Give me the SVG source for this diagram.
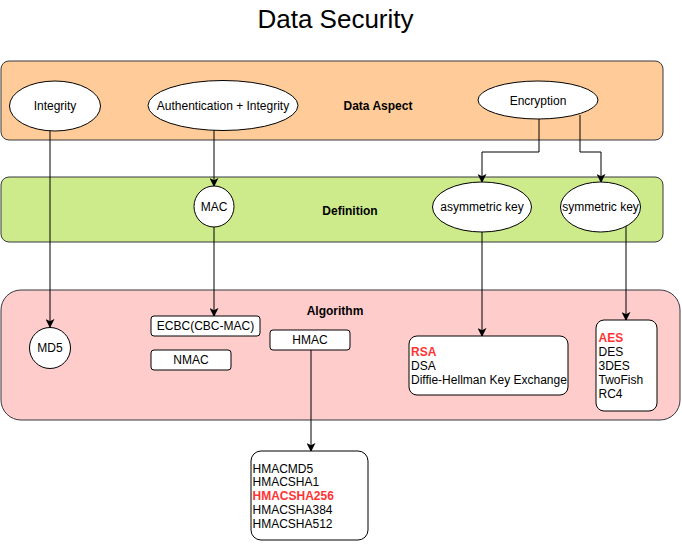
<svg xmlns="http://www.w3.org/2000/svg" width="682" height="545" viewBox="0 0 682 545">
<defs>
<marker id="arr" viewBox="0 0 10 10" refX="9" refY="5" markerWidth="9" markerHeight="9" markerUnits="userSpaceOnUse" orient="auto">
<path d="M0,0 L10,5 L0,10 L2.5,5 z" fill="#000"/>
</marker>
</defs>
<style>
text{font-family:"Liberation Sans",Arial,sans-serif;font-size:12px;fill:#000}
.c{text-anchor:middle;dominant-baseline:central}
.b{font-weight:bold}
.red{fill:#ff3333;font-weight:bold}
.band{stroke:#36393d;stroke-width:1}
.node{fill:#fff;stroke:#000;stroke-width:1}
.edge{fill:none;stroke:#000;stroke-width:1;marker-end:url(#arr)}
</style>
<rect width="682" height="545" fill="#fff"/>
<text x="335.5" y="28" text-anchor="middle" style="font-size:26px">Data Security</text>

<g id="band-data-aspect">
<rect class="band" x="1" y="61" width="662" height="79" rx="8" fill="#ffcc99"/>
<text x="378" y="106" class="c b">Data Aspect</text>
</g>
<g id="band-definition">
<rect class="band" x="1" y="177" width="662" height="65" rx="8" fill="#cdeb8b"/>
<text x="350" y="211" class="c b">Definition</text>
</g>
<g id="band-algorithm">
<rect class="band" x="1" y="290" width="679" height="130" rx="20" fill="#ffcccc"/>
<text x="335" y="311" class="c b">Algorithm</text>
</g>

<g id="connectors">
<line class="edge" x1="50" y1="131" x2="50" y2="327"/>
<line class="edge" x1="214" y1="130" x2="214" y2="186"/>
<line class="edge" x1="214" y1="227" x2="214" y2="316"/>
<polyline class="edge" points="539,119 539,152 482,152 482,182"/>
<polyline class="edge" points="580,115 580,152 601,152 601,182"/>
<line class="edge" x1="482" y1="232" x2="482" y2="336"/>
<line class="edge" x1="626" y1="226" x2="626" y2="320"/>
<line class="edge" x1="311" y1="350" x2="311" y2="451"/>
</g>

<g id="integrity">
<ellipse class="node" cx="55" cy="106" rx="45.5" ry="25"/>
<text x="55" y="106" class="c">Integrity</text>
</g>
<g id="auth-integrity">
<ellipse class="node" cx="223" cy="105.5" rx="75" ry="25"/>
<text x="223" y="105.5" class="c">Authentication + Integrity</text>
</g>
<g id="encryption">
<ellipse class="node" cx="538" cy="100" rx="60" ry="19"/>
<text x="538" y="100.5" class="c">Encryption</text>
</g>
<g id="mac">
<ellipse class="node" cx="214" cy="206.5" rx="20" ry="20.5"/>
<text x="214" y="207" class="c">MAC</text>
</g>
<g id="asymmetric-key">
<ellipse class="node" cx="482" cy="207" rx="49.5" ry="25"/>
<text x="482" y="207" class="c">asymmetric key</text>
</g>
<g id="symmetric-key">
<ellipse class="node" cx="600.5" cy="207" rx="40" ry="25"/>
<text x="600.5" y="207" class="c">symmetric key</text>
</g>
<g id="md5">
<circle class="node" cx="50" cy="348" r="20.5"/>
<text x="50" y="348" class="c">MD5</text>
</g>
<g id="ecbc">
<rect class="node" x="151" y="316" width="109" height="20" rx="3"/>
<text x="205.5" y="326" class="c">ECBC(CBC-MAC)</text>
</g>
<g id="nmac">
<rect class="node" x="151" y="350" width="80" height="20" rx="3"/>
<text x="191" y="360" class="c">NMAC</text>
</g>
<g id="hmac">
<rect class="node" x="270" y="330" width="80" height="20" rx="3"/>
<text x="310" y="340" class="c">HMAC</text>
</g>
<g id="asym-algos">
<rect class="node" x="409" y="336" width="159" height="59" rx="8"/>
<text x="411" y="356" class="red">RSA</text>
<text x="411" y="370">DSA</text>
<text x="411" y="384">Diffie-Hellman Key Exchange</text>
</g>
<g id="sym-algos">
<rect class="node" x="596" y="320" width="61" height="91" rx="8"/>
<text x="598.5" y="342" class="red">AES</text>
<text x="598.5" y="356">DES</text>
<text x="598.5" y="370">3DES</text>
<text x="598.5" y="384">TwoFish</text>
<text x="598.5" y="398">RC4</text>
</g>
<g id="hmac-algos">
<rect class="node" x="251" y="451" width="117" height="89" rx="10"/>
<text x="252.5" y="472.5">HMACMD5</text>
<text x="252.5" y="486">HMACSHA1</text>
<text x="252.5" y="499.5" class="red">HMACSHA256</text>
<text x="252.5" y="513.5">HMACSHA384</text>
<text x="252.5" y="527.5">HMACSHA512</text>
</g>
</svg>
